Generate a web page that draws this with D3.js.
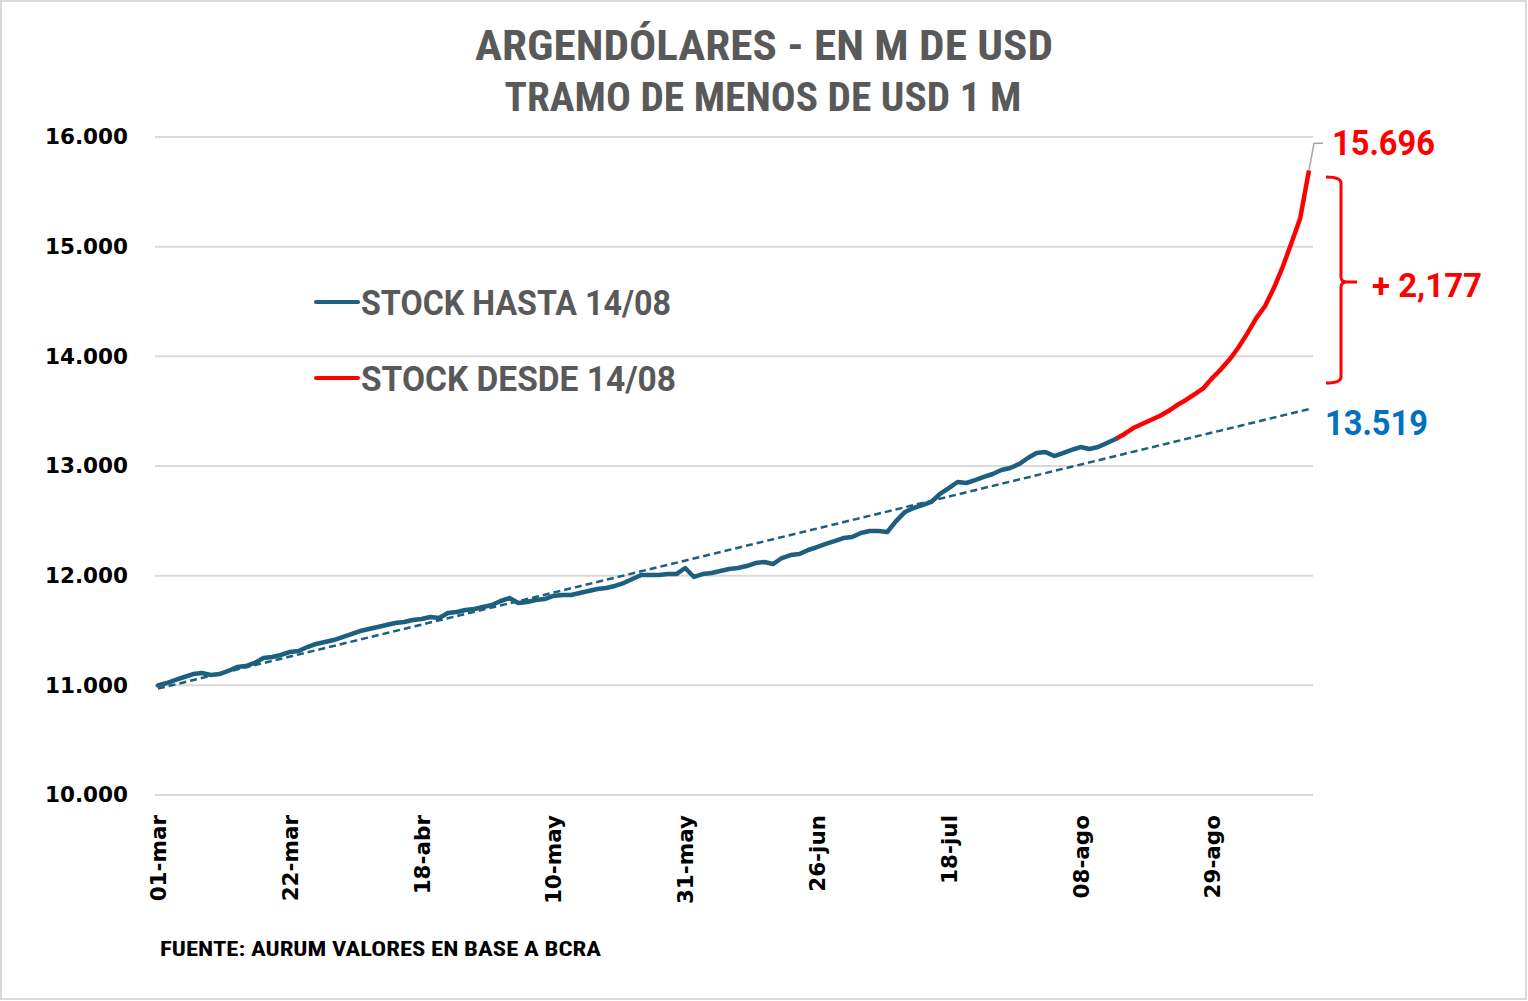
<!DOCTYPE html>
<html><head><meta charset="utf-8">
<script src="https://cdn.jsdelivr.net/npm/d3@7"></script>
<style>
html,body{margin:0;padding:0;background:#fff;}
svg{display:block;}
</style></head>
<body>
<svg id="c" width="1528" height="1001"></svg>
<script>
// ---- DATA ----
const title = "ARGENDÓLARES - EN M DE USD";
const subtitle = "TRAMO DE MENOS DE USD 1 M";
const source = "FUENTE: AURUM VALORES EN BASE A BCRA";
const yTicks = [10000, 11000, 12000, 13000, 14000, 15000, 16000];
const xTickIndex = [0, 15, 30, 45, 60, 75, 90, 105, 120];
const xTickLabels = ["01-mar", "22-mar", "18-abr", "10-may", "31-may", "26-jun", "18-jul", "08-ago", "29-ago"];
// Stock until 14/08 (business days from 01-mar, index 0..109)
const stockHasta = [
  11000, 11021, 11049, 11076, 11103, 11112, 11094, 11103, 11131, 11167,
  11176, 11204, 11249, 11258, 11277, 11304, 11313, 11349, 11377, 11395,
  11413, 11440, 11468, 11495, 11514, 11532, 11550, 11568, 11577, 11596,
  11605, 11623, 11614, 11660, 11669, 11687, 11696, 11714, 11732, 11769,
  11796, 11751, 11760, 11778, 11787, 11815, 11824, 11824, 11842, 11860,
  11878, 11887, 11906, 11933, 11969, 12006, 12006, 12006, 12015, 12015,
  12070, 11988, 12015, 12024, 12042, 12061, 12070, 12088, 12115, 12124,
  12106, 12161, 12188, 12197, 12234, 12261, 12289, 12316, 12343, 12352,
  12389, 12407, 12407, 12398, 12498, 12580, 12617, 12644, 12672, 12745,
  12799, 12854, 12845, 12872, 12900, 12927, 12963, 12982, 13018, 13073,
  13118, 13127, 13091, 13118, 13146, 13173, 13155, 13173, 13210, 13246
];
// Stock from 14/08 (index 109..131)
const stockDesdeStart = 109;
const stockDesde = [
  13246, 13292, 13346, 13383, 13419, 13456, 13501, 13556, 13602, 13656,
  13711, 13802, 13884, 13975, 14085, 14212, 14349, 14459, 14623, 14814,
  15033, 15260, 15696
];
// Linear trend (start value at index 0, end value at last index)
const trendValues = [10970, 13519];
const seriesNames = ["STOCK HASTA 14/08", "STOCK DESDE 14/08"];
const lastValue = 15696, trendLast = 13519, diffLabel = "+ 2,177";

// ---- CHART ----
const svg = d3.select("#c");
const blue = "#1d5f7e", red = "#ff0000", gray = "#595959", grid = "#d9d9d9";
const nLast = stockDesdeStart + stockDesde.length - 1;

const x = d3.scaleLinear().domain([0, nLast]).range([158, 1309]);
const y = d3.scaleLinear().domain([10000, 16000]).range([795, 137]);
const loc = d3.formatLocale({decimal: ",", thousands: ".", grouping: [3], currency: ["$", ""]});
const fmt = loc.format(",");

// border
svg.append("rect").attr("x", 1).attr("y", 1).attr("width", 1525).attr("height", 998)
  .attr("fill", "#fff").attr("stroke", grid).attr("stroke-width", 2);

// titles
svg.append("text").attr("x", 764).attr("y", 60).attr("text-anchor", "middle")
  .attr("font-family", "'Liberation Sans Narrow','Roboto Condensed','Liberation Sans',sans-serif")
  .attr("font-weight", "bold").attr("font-size", 42).attr("fill", gray)
  .attr("textLength", 578).attr("lengthAdjust", "spacingAndGlyphs").text(title);
svg.append("text").attr("x", 763).attr("y", 111).attr("text-anchor", "middle")
  .attr("font-family", "'Liberation Sans Narrow','Roboto Condensed','Liberation Sans',sans-serif")
  .attr("font-weight", "bold").attr("font-size", 40).attr("fill", gray)
  .attr("textLength", 517).attr("lengthAdjust", "spacingAndGlyphs").text(subtitle);

// gridlines
svg.append("g").selectAll("line").data(yTicks).join("line")
  .attr("x1", 155).attr("x2", 1313)
  .attr("y1", d => y(d)).attr("y2", d => y(d))
  .attr("stroke", grid).attr("stroke-width", 2);

// y axis labels
const yAxis = d3.axisLeft(y).tickValues(yTicks).tickFormat(fmt).tickSize(0).tickPadding(0);
const gy = svg.append("g").attr("transform", "translate(128,0)").call(yAxis);
gy.select(".domain").remove();
gy.selectAll("text").attr("font-family", "'DejaVu Sans',sans-serif").attr("font-weight", "bold")
  .attr("font-size", 21.5).attr("fill", "#000");

// x axis labels
const xAxis = d3.axisBottom(x).tickValues(xTickIndex).tickFormat((d, i) => xTickLabels[i]).tickSize(0).tickPadding(0);
const gx = svg.append("g").attr("transform", "translate(0,812)").call(xAxis);
gx.select(".domain").remove();
gx.selectAll("text")
  .attr("font-family", "'DejaVu Sans',sans-serif").attr("font-weight", "bold")
  .attr("font-size", 21.5).attr("fill", "#000")
  .attr("transform", "rotate(-90)").attr("text-anchor", "end")
  .attr("x", 0).attr("y", 0).attr("dy", "0.35em").attr("dx", "-3");

// trend
svg.append("path")
  .datum([[0, trendValues[0]], [nLast, trendValues[1]]])
  .attr("d", d3.line().x(d => x(d[0])).y(d => y(d[1])))
  .attr("fill", "none").attr("stroke", blue).attr("stroke-width", 2.5)
  .attr("stroke-dasharray", "7,4");

const line = d3.line().x(d => x(d[0])).y(d => y(d[1]));
svg.append("path").datum(stockDesde.map((v, i) => [stockDesdeStart + i, v]))
  .attr("d", line).attr("fill", "none").attr("stroke", red).attr("stroke-width", 4.5)
  .attr("stroke-linejoin", "round");
svg.append("path").datum(stockHasta.map((v, i) => [i, v]))
  .attr("d", line).attr("fill", "none").attr("stroke", blue).attr("stroke-width", 4.5)
  .attr("stroke-linejoin", "round").attr("stroke-linecap", "round");

// legend
const legFont = "'Roboto','Liberation Sans',sans-serif";
[[302, blue, seriesNames[0], 310], [378, red, seriesNames[1], 315]].forEach(([ly, col, txt, w]) => {
  svg.append("line").attr("x1", 316).attr("x2", 358).attr("y1", ly).attr("y2", ly)
    .attr("stroke", col).attr("stroke-width", 4).attr("stroke-linecap", "round");
  svg.append("text").attr("x", 361).attr("y", ly + 13).attr("font-family", legFont)
    .attr("font-weight", "bold").attr("font-size", 35).attr("fill", gray)
    .attr("textLength", w).attr("lengthAdjust", "spacingAndGlyphs").text(txt);
});

// annotations
const xe = x(nLast), ye = y(lastValue);
svg.append("path").attr("d", `M${xe},${ye} L${xe + 5},${ye - 27} L${xe + 14},${ye - 27}`)
  .attr("fill", "none").attr("stroke", "#a6a6a6").attr("stroke-width", 1.5);
svg.append("text").attr("x", 1332).attr("y", ye - 15).attr("font-family", legFont)
  .attr("font-weight", "bold").attr("font-size", 35).attr("fill", red)
  .attr("textLength", 103).attr("lengthAdjust", "spacingAndGlyphs").text(fmt(lastValue));
svg.append("text").attr("x", 1325).attr("y", y(trendLast) + 26).attr("font-family", legFont)
  .attr("font-weight", "bold").attr("font-size", 35).attr("fill", "#0070c0")
  .attr("textLength", 103).attr("lengthAdjust", "spacingAndGlyphs").text(fmt(trendLast));

// bracket
const bt = 177, bb = 383, bm = 282;
svg.append("path")
  .attr("d", `M1326,${bt} Q1341,${bt} 1341,${bt + 6} L1341,${bm - 5} Q1341,${bm} 1347,${bm} L1357,${bm} M1347,${bm} Q1341,${bm} 1341,${bm + 5} L1341,${bb - 6} Q1341,${bb} 1326,${bb}`)
  .attr("fill", "none").attr("stroke", red).attr("stroke-width", 3);
svg.append("text").attr("x", 1372).attr("y", bm + 15).attr("font-family", legFont)
  .attr("font-weight", "bold").attr("font-size", 33).attr("fill", red)
  .attr("textLength", 110).attr("lengthAdjust", "spacingAndGlyphs").text(diffLabel);

// source
svg.append("text").attr("x", 160).attr("y", 956)
  .attr("font-family", "'Liberation Sans Narrow','Roboto Condensed','Liberation Sans',sans-serif")
  .attr("font-weight", "bold").attr("font-size", 21).attr("fill", "#000")
  .attr("textLength", 441).attr("lengthAdjust", "spacingAndGlyphs").text(source);
</script>
</body></html>
